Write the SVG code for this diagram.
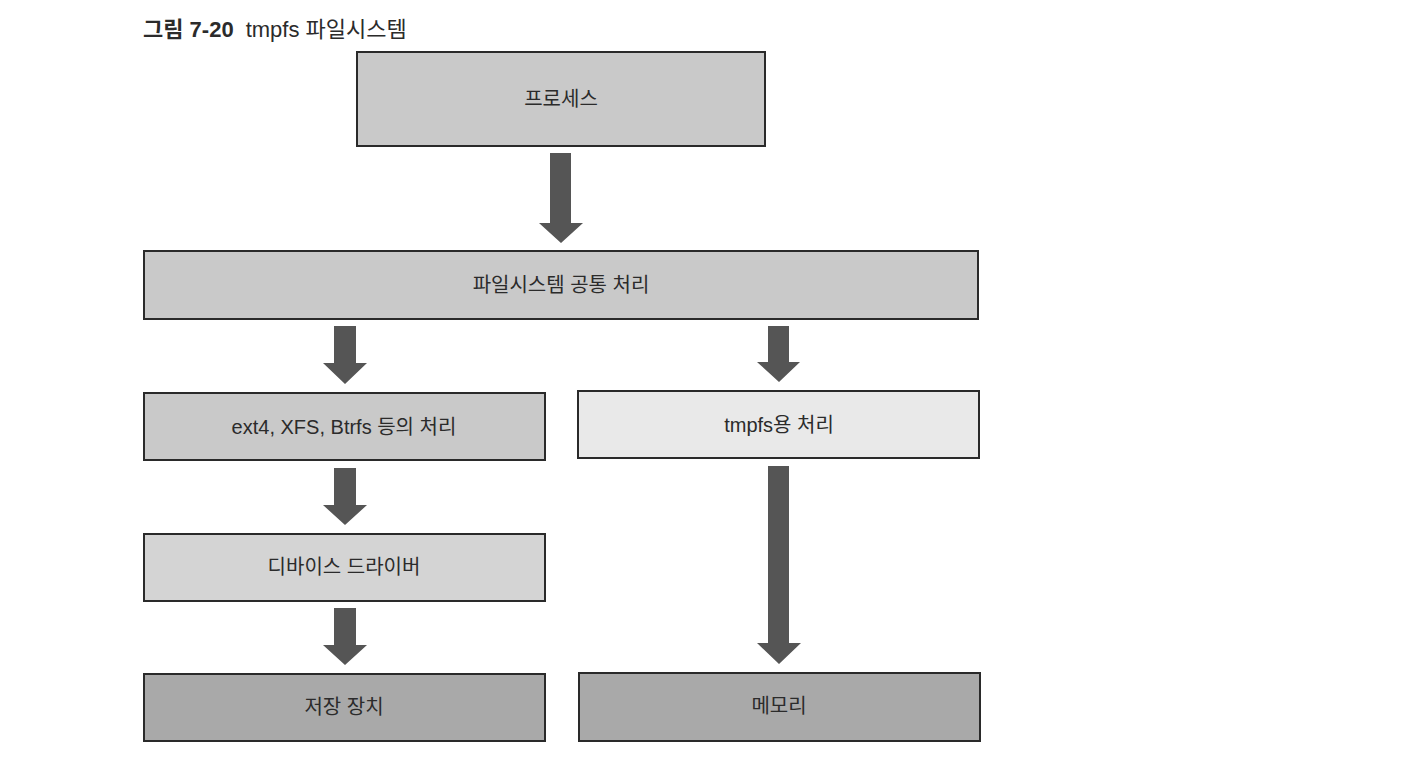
<svg xmlns="http://www.w3.org/2000/svg" width="1428" height="764" viewBox="0 0 1428 764">
<style>
text{font-family:"Liberation Sans","Noto Sans CJK KR",sans-serif;fill:#2b2b2b;}
.lbl{font-size:20px;text-anchor:middle;dominant-baseline:central;}
.box{stroke:#2a2a2a;stroke-width:2;}
.mid{fill:#c9c9c9;}
.lite{fill:#d4d4d4;}
.pale{fill:#e9e9e9;}
.dark{fill:#a9a9a9;}
.arr{fill:#555555;}
</style>
<rect width="1428" height="764" fill="#ffffff"/>
<g id="title">
<text x="143" y="37" font-size="22"><tspan font-weight="bold">그림 7-20</tspan><tspan dx="12">tmpfs 파일시스템</tspan></text>
</g>
<g id="n-process"><rect class="box mid" x="357" y="52" width="408" height="94"/><text class="lbl" x="561" y="99">프로세스</text></g>
<g id="n-common"><rect class="box mid" x="144" y="251" width="834" height="68"/><text class="lbl" x="561" y="285">파일시스템 공통 처리</text></g>
<g id="n-ext4"><rect class="box mid" x="144" y="393" width="401" height="67"/><text class="lbl" x="344" y="427">ext4, XFS, Btrfs 등의 처리</text></g>
<g id="n-tmpfs"><rect class="box pale" x="578" y="391" width="401" height="67"/><text class="lbl" x="779" y="425">tmpfs용 처리</text></g>
<g id="n-driver"><rect class="box lite" x="144" y="534" width="401" height="67"/><text class="lbl" x="344" y="567">디바이스 드라이버</text></g>
<g id="n-storage"><rect class="box dark" x="144" y="674" width="401" height="67"/><text class="lbl" x="344" y="707">저장 장치</text></g>
<g id="n-memory"><rect class="box dark" x="579" y="673" width="401" height="68"/><text class="lbl" x="779" y="706">메모리</text></g>
<g id="connectors">
<polygon class="arr" points="550,153 571,153 571,223 583,223 561,243 539,223 550,223"/>
<polygon class="arr" points="334,326 356,326 356,363 367,363 345,384 323,363 334,363"/>
<polygon class="arr" points="768,326 789,326 789,362 800,362 779,382 757,362 768,362"/>
<polygon class="arr" points="334,468 356,468 356,505 367,505 345,525 323,505 334,505"/>
<polygon class="arr" points="334,608 356,608 356,645 367,645 345,665 323,645 334,645"/>
<polygon class="arr" points="768,466 789,466 789,643 801,643 779,664 757,643 768,643"/>
</g>
</svg>
